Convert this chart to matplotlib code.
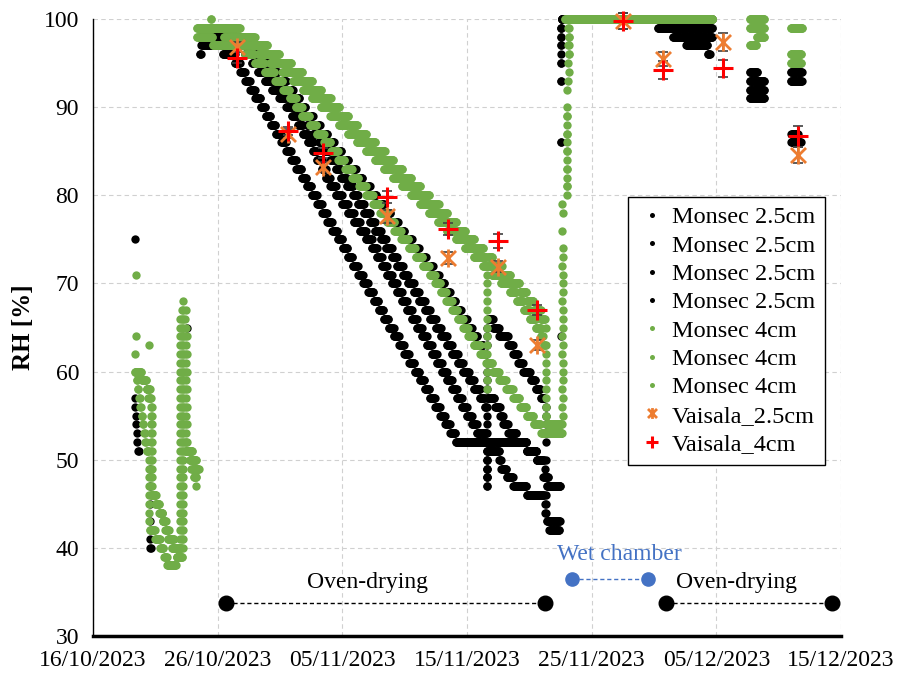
import datetime as dt
import numpy as np
import matplotlib
matplotlib.use("Agg")
import matplotlib.pyplot as plt
import matplotlib.dates as mdates
from matplotlib.path import Path

nan = np.nan

# All times are days since 16/10/2023 00:00. Each run list gives the time a level
# starts; the level holds until the next time (nan = no data).
# "col" entries are quick jumps: several levels logged at about the same time.

# ---- Monsec 2.5cm (black) ----
b1_t = [3.36, 3.40, 3.44, 3.48, 3.52, 3.56, 3.62, 3.72, 4.60, 4.70,
        8.58, 8.70, 10.40,
        11.38, 11.79, 12.20, 12.62, 13.03, 13.44, 13.85, 14.26, 14.67, 15.09,
        15.50, 15.91, 16.32, 16.73, 17.14, 17.56, 17.97, 18.38, 18.79, 19.20,
        19.62, 20.03, 20.44, 20.85, 21.26, 21.67, 22.09, 22.50, 22.91, 23.32,
        23.73, 24.14, 24.56, 24.97, 25.38, 25.79, 26.20, 26.61, 27.03, 27.44,
        27.85, 28.26, 28.67, 29.08,
        34.80, 35.60, 36.00, 36.10, 36.55, 37.45,
        37.60, 49.72, 52.69, 53.89, 55.97, 56.90]
b1_rh = [57, 56, 55, 54, 53, 52, 51, nan, 40, nan,
         96, 97, 96] + list(range(95, 51, -1)) + [
         51, 50, nan, 48, 47, nan,
         100, nan, 93, nan, 94, nan]
b1_col_t = [3.33, 4.55, 7.50, 31.62, 37.50]
b1_col_rh = [[75], [49, 47, 45, 43, 41], [65], [51, 50, 49, 48, 47], [95, 97, 99]]

b2_t = [8.60, 9.95, 11.23,
        11.79, 12.19, 12.75, 13.23, 13.79, 14.35, 14.92, 15.48, 15.96, 16.44,
        16.84, 17.24, 17.64, 17.96, 18.36, 18.68, 19.01, 19.49, 19.97, 20.45,
        20.93, 21.41, 21.89, 22.37, 22.77, 23.18, 23.58, 23.98, 24.38, 24.78,
        25.18, 25.58, 25.98, 26.38, 26.78, 27.18, 27.59, 27.99, 28.39, 28.79,
        29.19, 29.59, 29.99, 30.39, 30.79,
        31.60, 31.70, 32.60, 32.75, 33.20, 33.70, 34.80, 36.20, 36.40, 37.50,
        37.60, 45.31, 49.72, 52.69, 53.89, 55.97, 56.90]
b2_rh = [98, 99, 98] + list(range(97, 52, -1)) + [
         nan, 51, 50, 49, 48, 47, 46, nan, 43, nan,
         100, 99, nan, 92, nan, 93, nan]
b2_col_t = [31.62, 36.25, 37.55]
b2_col_rh = [[52, 51, 50, 49, 48, 47], [45, 44], [93, 97, 99]]

b3_t = [8.64, 10.34, 11.47,
        12.19, 12.59, 13.07, 13.55, 14.03, 15.00, 15.56, 16.04, 16.60, 17.16,
        17.64, 18.12, 18.52, 19.01, 19.49, 19.89, 20.37, 20.85, 21.25, 21.73,
        22.21, 22.61, 23.10, 23.50, 23.98, 24.38, 24.86, 25.26, 25.74, 26.14,
        26.62, 27.02, 27.51, 27.91, 28.39, 28.79, 29.27, 29.67, 30.15, 30.55,
        31.03, 31.44,
        31.60, 31.65, 32.25, 32.65, 32.90, 33.30, 34.00, 34.80, 35.60, 36.20,
        36.40, 37.50, 37.60, 45.80, 46.50, 49.72, 52.69, 53.89, 56.00, 56.60]
b3_rh = [98, 99, 98] + list(range(97, 55, -1)) + [
         nan, 57, 56, 55, 54, 53, 52, 51, 50, nan,
         47, nan, 100, 99, 98, nan, 91, nan, 87, nan]
b3_col_t = [31.62, 36.25, 37.55]
b3_col_rh = [[55, 54, 53, 52, 51, 50, 49, 48], [49, 48], [86, 95, 98]]

b4_t = [8.64, 11.00,
        12.49, 13.29, 14.09, 14.90, 15.54, 16.10, 16.58, 17.06, 17.70, 18.26,
        18.83, 19.39, 19.96, 20.52, 21.09, 21.65, 22.22, 22.78, 23.35, 23.91,
        24.48, 25.04, 25.61, 26.17, 26.74, 27.30, 27.75, 28.20, 28.65, 29.10,
        29.55, 30.00, 30.40, 30.85, 31.35,
        31.60, 31.65, 32.10, 32.60, 33.30, 33.70, 34.10, 34.50, 35.10, 35.50,
        35.90, 36.25, 36.60, 37.45, 37.60, 47.60, 49.30, 49.50, 52.69, 53.30,
        56.00, 56.85]
b4_rh = [98, 97] + list(range(96, 61, -1)) + [
         nan, 66, 65, 64, 63, 62, 61, 60, 59, 58,
         57, nan, 42, nan, 100, 97, 96, nan, 94, nan,
         86, nan]
b4_col_t = [31.62, 36.30, 37.50]
b4_col_rh = [[61, 60, 59, 58, 57, 63, 64, 65],
             [56, 55, 54, 53, 52, 50, 48, 46, 45, 44],
             [64, 86, 93, 96, 98, 99]]

# ---- Monsec 4cm (green) ----
g1_t = [3.45, 3.90, 4.30, 4.60, 4.65, 5.00, 5.30, 5.60, 5.90, 6.10, 6.50,
        6.90, 7.20, 7.50, 8.00,
        8.34, 9.60,
        12.19, 12.99, 13.79, 14.60, 15.24, 15.80, 16.28, 16.76, 17.40, 17.96,
        18.53, 19.09, 19.66, 20.22, 20.79, 21.35, 21.92, 22.48, 23.05, 23.61,
        24.18, 24.74, 25.31, 25.87, 26.44, 27.00, 27.45, 27.90, 28.35, 28.80,
        29.25, 29.70, 30.10, 30.55, 31.05, 31.55, 32.05, 32.60, 33.15, 33.70,
        34.25, 34.80, 35.35, 35.95,
        37.65, 38.20, 49.72, 52.69, 53.89, 55.97, 56.94]
g1_rh = [60, 59, 58, nan, 46, 45, 44, 43, 42, 41, 40,
         39, nan, 51, 50,
         98, 97] + list(range(96, 52, -1)) + [
         nan, 100, nan, 100, nan, 99, nan]
g1_col_t = [3.45, 4.62, 7.25, 7.45, 37.70, 38.05, 38.15]
g1_col_rh = [[71, 64], [57, 56, 55, 54, 53, 52, 51, 50, 49, 48, 47],
             list(range(40, 69)), [67, 65, 63, 61, 59, 57, 55, 53, 52],
             [55, 57, 59, 61, 63, 65, 67, 69, 71, 73],
             [80, 82, 84, 86, 88, 92], [96, 97, 98, 99]]

g2_t = [3.35, 3.50, 3.60, 3.70, 3.80, 3.90, 4.00, 4.10, 4.20, 4.30, 4.45,
        4.55, 5.00, 5.40, 5.70, 5.95, 6.70, 6.95, 7.60, 7.75, 7.90, 8.10, 8.30,
        8.34, 10.50,
        11.79, 13.23, 14.19, 15.16, 16.04, 16.84, 17.56, 18.28, 19.01, 19.73,
        20.45, 21.17, 21.89, 22.61, 23.34, 24.06, 24.78, 25.50, 26.22, 26.94,
        27.67, 28.39, 29.11, 29.83, 30.55, 31.27, 31.99, 32.72, 33.44, 34.00,
        34.56, 35.04, 35.53, 35.93, 36.15,
        36.28, 36.35, 37.65, 37.85, 49.72, 52.69, 53.89, 55.97, 56.85]
g2_rh = [60, 59, 58, 57, 56, 55, 54, 53, 52, 51, nan,
         42, 41, 40, 39, 38, 39, nan, 51, 50, 49, 48, 47,
         99, 98] + list(range(97, 62, -1)) + [
         nan, 54, nan, 100, nan, 99, nan, 96, nan]
g2_col_t = [3.35, 4.50, 7.00, 7.55, 36.30, 37.68, 38.00, 38.10]
g2_col_rh = [[62], [50, 49, 48, 47, 46, 45, 44, 43], list(range(40, 67)),
             [64, 62, 60, 58, 56, 54, 52], [62, 60, 58, 56, 55],
             [60, 66, 70, 74, 78], [81, 83, 85, 87, 89, 90], [93, 95, 97, 99]]

g3_t = [4.30, 4.45, 4.60, 4.75, 5.10, 5.35, 5.60, 5.80, 6.00, 6.30, 6.70,
        6.95, 7.10, 7.40, 7.80, 8.10,
        8.50, 9.45, 9.55,
        11.79, 12.99, 14.03, 15.00, 15.96, 16.84, 17.64, 18.36, 19.09, 19.81,
        20.53, 21.25, 21.97, 22.69, 23.42, 24.14, 24.86, 25.58, 26.30, 27.02,
        27.75, 28.47, 29.19, 29.91, 30.63, 31.35,
        31.60, 31.70, 32.07, 32.80, 33.52, 34.24, 34.80, 35.36, 35.93, 36.28,
        36.40, 37.60, 38.20, 49.72, 52.69, 53.25, 53.89, 55.97, 56.85]
g3_rh = [58, 57, nan, 46, 45, 44, 43, 42, 41, 40, 39,
         40, nan, 51, 50, 49,
         99, 100, 99] + list(range(98, 72, -1)) + [
         nan, 73, 72, 71, 70, 69, 68, 67, 66, nan,
         53, nan, 100, nan, 97, 98, nan, 95, nan]
g3_col_t = [4.50, 4.72, 7.15, 7.35, 31.62, 36.30, 37.62, 38.05, 38.15]
g3_col_rh = [[63], [56, 55, 54, 53, 52, 51, 50, 49, 48, 47], list(range(41, 68)),
             [66, 64, 62, 60, 58, 56, 54, 52], list(range(72, 57, -1)),
             [65, 63, 61, 59, 57, 55], [56, 58, 62, 64, 68, 72, 76, 79],
             [81, 83, 85, 87, 89], [94, 96, 98]]

# ---- Vaisala spot measurements ----
vais_t = [11.52, 15.66, 18.47, 23.55, 28.47, 32.48, 35.60, 42.50, 45.70, 50.50, 56.56]
vais25_rh = [96.8, 87.0, 83.2, 77.6, 72.9, 71.9, 63.0, 99.8, 95.5, 97.4, 84.6]
vais25_err = [0.6, 0.5, 0.6, 0.7, 0.7, 0.6, 0.6, 0.9, 0.8, 1.0, 0.9]
vais4_rh = [95.6, 87.3, 84.8, 79.8, 76.2, 74.8, 67.0, 99.8, 94.2, 94.4, 86.7]
vais4_err = [0.6, 0.5, 0.6, 0.7, 0.7, 0.8, 0.6, 0.9, 1.0, 1.0, 1.2]

# ---- phase annotations ----
oven1_t = [10.67, 36.25]
oven2_t = [45.95, 59.30]
wet_t = [38.40, 44.50]
oven_rh = 33.8
wet_rh = 36.5

BASE = mdates.date2num(dt.datetime(2023, 10, 16))
STEP = 1 / 24  # hourly logging


def series_points(t, rh, col_t, col_rh):
    assert len(t) == len(rh)
    xs, ys = [], []
    for i in range(len(t) - 1):
        if np.isnan(rh[i]):
            continue
        n = max(1, int(round((t[i + 1] - t[i]) / STEP)))
        xs.extend(t[i] + np.arange(n) * STEP)
        ys.extend([rh[i]] * n)
    for ct, levels in zip(col_t, col_rh):
        xs.extend([ct] * len(levels))
        ys.extend(levels)
    return BASE + np.array(xs), np.array(ys, dtype=float)


plt.rcParams['font.family'] = ['Liberation Serif', 'DejaVu Serif']
FS = 17

fig = plt.figure(figsize=(9, 6.76), dpi=100)
ax = fig.add_axes([93 / 900, 40 / 676, 748 / 900, 617 / 676])

black_series = [(b1_t, b1_rh, b1_col_t, b1_col_rh), (b2_t, b2_rh, b2_col_t, b2_col_rh),
                (b3_t, b3_rh, b3_col_t, b3_col_rh), (b4_t, b4_rh, b4_col_t, b4_col_rh)]
green_series = [(g1_t, g1_rh, g1_col_t, g1_col_rh), (g2_t, g2_rh, g2_col_t, g2_col_rh),
                (g3_t, g3_rh, g3_col_t, g3_col_rh)]

for s in black_series:
    x, y = series_points(*s)
    ax.plot(x, y, 'o', ls='none', ms=6, color='black', mew=0,
            label='Monsec 2.5cm', clip_on=False, zorder=3)
for s in green_series:
    x, y = series_points(*s)
    ax.plot(x, y, 'o', ls='none', ms=6, color='#70AD47', mew=0,
            label='Monsec 4cm', clip_on=False, zorder=4)

# Excel-like "star" marker: an X with a vertical bar
star = Path([(-1, -1), (1, 1), (-1, 1), (1, -1), (0, -1.2), (0, 1.2)],
            [Path.MOVETO, Path.LINETO, Path.MOVETO, Path.LINETO, Path.MOVETO, Path.LINETO])

vx = BASE + np.array(vais_t)
ax.errorbar(vx, vais25_rh, yerr=vais25_err, fmt='none', ecolor='#404040',
            elinewidth=1.2, capsize=3.8, capthick=1.2, zorder=5, clip_on=False)
ax.errorbar(vx, vais4_rh, yerr=vais4_err, fmt='none', ecolor='#404040',
            elinewidth=1.2, capsize=3.8, capthick=1.2, zorder=5, clip_on=False)
ax.plot(vx, vais25_rh, ls='none', marker=star, ms=13, mew=2, color='#ED7D31',
        label='Vaisala_2.5cm', zorder=6, clip_on=False)
ax.plot(vx, vais4_rh, ls='none', marker='+', ms=14, mew=2.2, color='#FF0000',
        label='Vaisala_4cm', zorder=7, clip_on=False)

# phase annotations
ax.plot(BASE + np.array(oven1_t), [oven_rh] * 2, ls=(0, (3, 2)), lw=1, color='black',
        marker='o', ms=10.5, zorder=5)
ax.plot(BASE + np.array(oven2_t), [oven_rh] * 2, ls=(0, (3, 2)), lw=1, color='black',
        marker='o', ms=10.5, zorder=5)
ax.plot(BASE + np.array(wet_t), [wet_rh] * 2, ls=(0, (3, 2)), lw=1, color='#4472C4',
        marker='o', ms=9.5, zorder=5)
ax.text(BASE + 22.05, 36.1, 'Oven-drying', ha='center', va='center', fontsize=FS)
ax.text(BASE + 51.6, 36.1, 'Oven-drying', ha='center', va='center', fontsize=FS)
ax.text(BASE + 42.2, 39.3, 'Wet chamber', ha='center', va='center', fontsize=FS,
        color='#4472C4')

ax.set_xlim(BASE, BASE + 60)
ax.set_ylim(30, 100)
ax.set_xticks(BASE + np.arange(0, 61, 10))
ax.xaxis.set_major_formatter(mdates.DateFormatter('%d/%m/%Y'))
ax.set_yticks(np.arange(30, 101, 10))
ax.tick_params(axis='both', length=0, labelsize=FS)
ax.tick_params(axis='x', pad=10)
ax.tick_params(axis='y', pad=10)
ax.grid(True, ls=(0, (4, 3)), color='#D0D0D0', lw=0.8)
ax.set_axisbelow(True)
for side in ('top', 'right'):
    ax.spines[side].set_visible(False)
ax.spines['left'].set_linewidth(1.0)
ax.spines['bottom'].set_linewidth(2.5)
ax.set_ylabel('RH [%]', fontsize=FS + 1, fontweight='bold')
ax.yaxis.set_label_coords(-0.078, 0.5)

leg = ax.legend(loc='upper left', bbox_to_anchor=(0.715, 0.712), borderaxespad=0,
                fontsize=17.5, markerscale=0.6, handlelength=1.2, handletextpad=0.2,
                labelspacing=0.26, borderpad=0.4, fancybox=False, framealpha=1,
                edgecolor='black')
leg.get_frame().set_linewidth(1.0)
leg.set_zorder(10)

fig.savefig('out.png', dpi=100)
